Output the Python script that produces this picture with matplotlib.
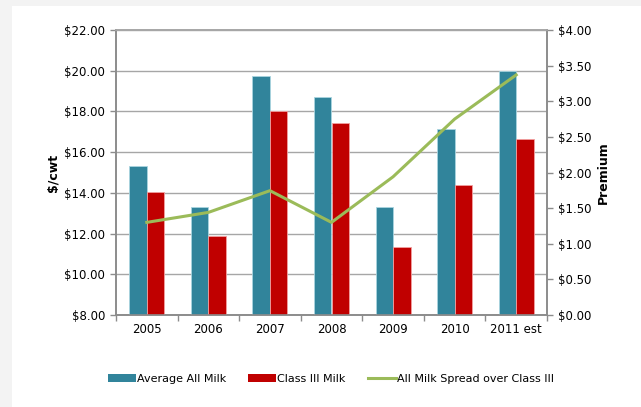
import matplotlib.pyplot as plt
import numpy as np
from matplotlib.patches import Patch, Rectangle
from matplotlib.lines import Line2D

years = ["2005", "2006", "2007", "2008", "2009", "2010", "2011 est"]
all_milk = [15.34, 13.29, 19.76, 18.69, 13.29, 17.14, 20.00]
class3 = [14.03, 11.86, 18.02, 17.42, 11.36, 14.39, 16.65]
spread = [1.30, 1.44, 1.745, 1.30, 1.94, 2.75, 3.37]

teal = "#31849B"
red = "#C00000"
green = "#9BBB59"
gray = "#8C8C8C"

plt.rcParams['font.family'] = ['DejaVu Sans']

fig = plt.figure(figsize=(6.41, 4.07), dpi=100)
fig.patch.set_facecolor("#F3F3F3")
fig.patches.append(Rectangle((12/641, 0), 1, 1 - 6/407, transform=fig.transFigure,
                             facecolor="white", edgecolor="none", zorder=-5))

ax = fig.add_axes([116/641, 1 - 315/407, 431/641, 285/407])
x = np.arange(len(years))
w = 0.285
ax.bar(x - w/2, all_milk, w, color=teal, edgecolor="#A9D5E0", linewidth=0.6, zorder=3)
ax.bar(x + w/2, class3, w, color=red, edgecolor="#F2A0A0", linewidth=0.6, zorder=3)

ax.set_ylim(8, 22)
ax.set_xlim(-0.5, len(years) - 0.5)
ax.set_yticks(np.arange(8, 23, 2))
ax.set_yticklabels([f"${v:.2f}" for v in np.arange(8, 23, 2)])
ax.yaxis.grid(True, color="#A6A6A6", linewidth=1.0, zorder=0)
ax.set_axisbelow(True)
ax.set_xticks(x)
ax.set_xticklabels(years)
ax.set_xticks(np.arange(-0.5, len(years), 1), minor=True)
ax.tick_params(axis="x", which="major", length=0, labelsize=8.5, pad=6)
ax.tick_params(axis="x", which="minor", length=4, color=gray, width=1)
ax.tick_params(axis="y", length=4, color=gray, width=1, labelsize=8.5, pad=4)
for s in ax.spines.values():
    s.set_color(gray)
    s.set_linewidth(1.2)
ax.spines["top"].set_color("#A6A6A6")
ax.set_ylabel("$/cwt", fontsize=9, fontweight="bold", labelpad=3)

ax2 = ax.twinx()
ax2.plot(x, spread, color=green, linewidth=2.2, zorder=4)
ax2.set_ylim(0, 4)
ax2.set_yticks(np.arange(0, 4.01, 0.5))
ax2.set_yticklabels([f"${v:.2f}" for v in np.arange(0, 4.01, 0.5)])
ax2.tick_params(axis="y", length=4, color=gray, width=1, labelsize=8.5, pad=4)
for s in ax2.spines.values():
    s.set_color(gray)
    s.set_linewidth(1.2)
ax2.spines["top"].set_color("#A6A6A6")
ax2.set_ylabel("Premium", fontsize=9, fontweight="bold", labelpad=4)

handles = [
    Patch(facecolor=teal, edgecolor="none"),
    Patch(facecolor=red, edgecolor="none"),
    Line2D([0], [0], color=green, linewidth=2.2),
]
labels = ["Average All Milk", "Class III Milk", "All Milk Spread over Class III"]
fig.legend(handles, labels, loc="center", bbox_to_anchor=(331/641, 1 - 379/407),
           ncol=3, frameon=False, fontsize=8.0, handlelength=2.5, handleheight=0.7,
           handletextpad=0.1, columnspacing=2.0)

fig.savefig("out.png", dpi=100)
